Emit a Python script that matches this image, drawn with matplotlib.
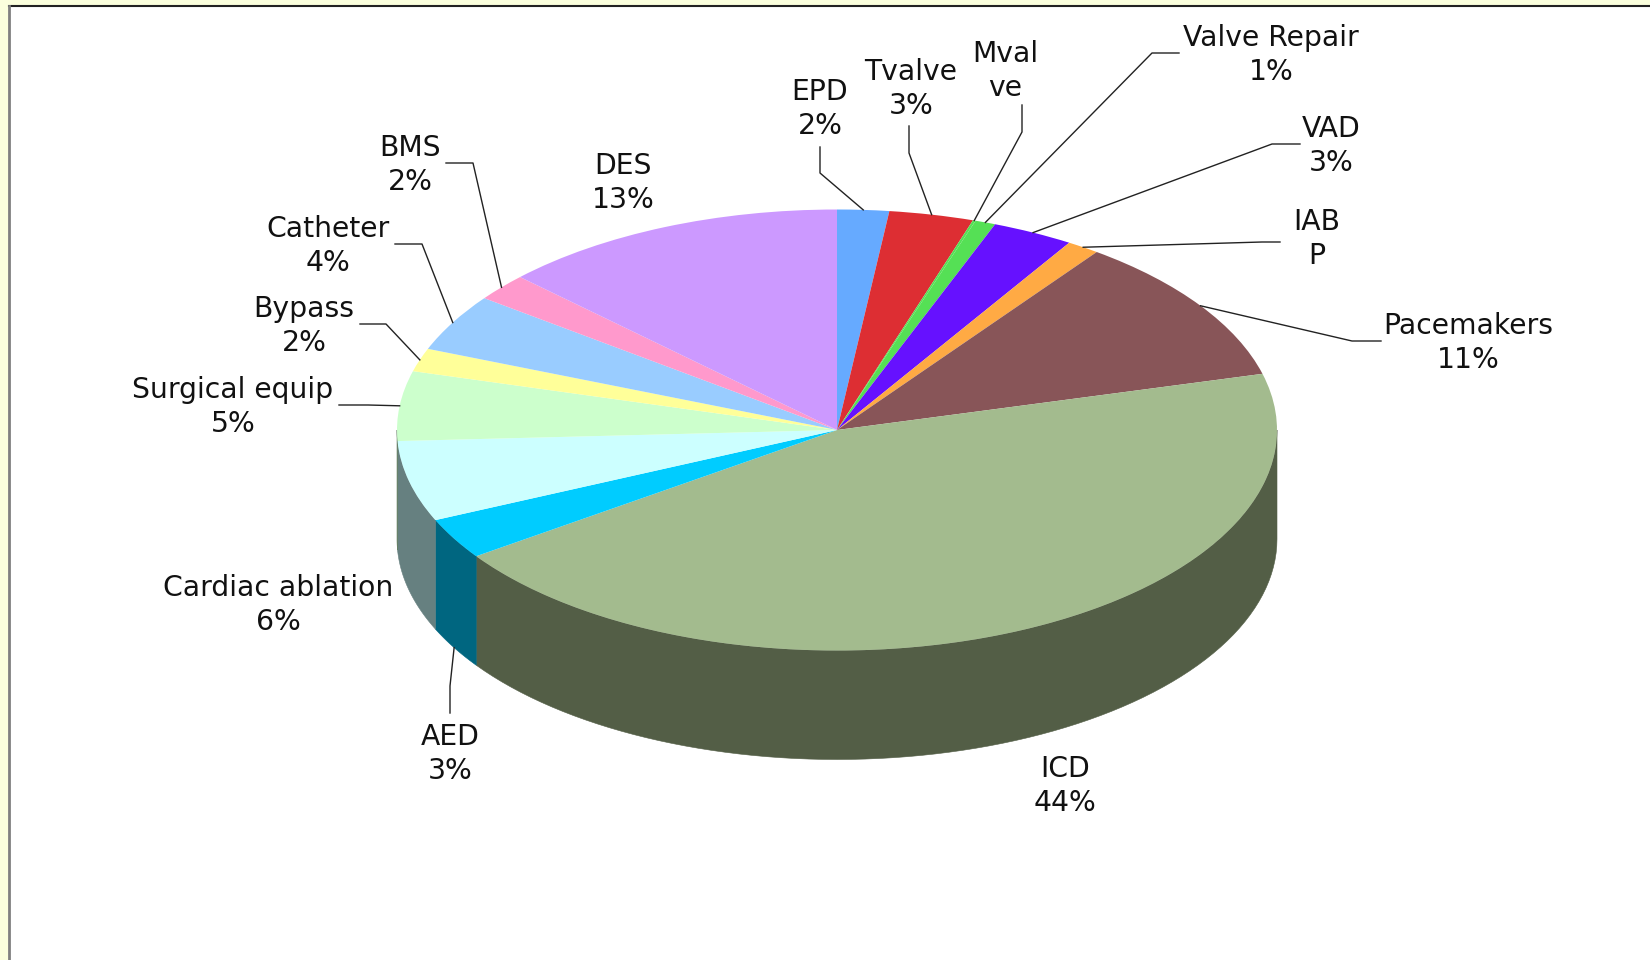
import numpy as np
import matplotlib
matplotlib.use('Agg')
import matplotlib.pyplot as plt
from matplotlib.patches import Rectangle

matplotlib.rcParams.update({'font.family': 'DejaVu Sans', 'font.size': 20.3})

# slices, clockwise from 12 o'clock
labels = ['EPD\n2%', 'Tvalve\n3%', 'Mval\nve', 'Valve Repair\n1%', 'VAD\n3%', 'IAB\nP',
          'Pacemakers\n11%', 'ICD\n44%', 'AED\n3%', 'Cardiac ablation\n6%',
          'Surgical equip\n5%', 'Bypass\n2%', 'Catheter\n4%', 'BMS\n2%', 'DES\n13%']
values = [1.9, 3.1, 0.1, 0.75, 3.0, 1.2, 10.85, 44.4, 3.0, 5.9, 5.1, 1.7, 4.2, 2.0, 12.8]
colors = ['#66AAFF', '#DD2E33', '#55E055', '#55E055', '#6611FF', '#FFAA44', '#885558',
          '#A3BB8E', '#00CCFF', '#CCFFFF', '#CCFFCC', '#FFFF99', '#99CCFF', '#FF99CC', '#CC99FF']
side_colors = ['#335580', '#6E171A', '#2A702A', '#2A702A', '#330880', '#805522', '#442A2C',
               '#535E46', '#006680', '#668080', '#668066', '#80804C', '#4C6680', '#804C66', '#664C80']

# layout in figure pixels
W, H = 1650, 960
cx, cy, rx, ry, depth = 837, 430, 440, 220.5, 109
label_pos = [(820, 109), (911, 89), (1005, 71), (1271, 55), (1331, 146), (1317, 239),
             (1468, 343), (1065, 786), (450, 754), (278, 605), (233, 407), (304, 326),
             (328, 246), (410, 165), (623, 183)]
# leader line points from the label to the bend, None where there is no line
leaders = [[(820, 147), (820, 173)], [(909, 126), (909, 153)], [(1022, 105), (1022, 132)],
           [(1179, 53), (1152, 53)], [(1300, 144), (1272, 144)], [(1280, 242), (1262, 242)],
           [(1381, 341), (1352, 341)], None, [(450, 713), (450, 686)], None,
           [(339, 405), (368, 405)], [(360, 324), (386, 324)], [(395, 244), (422, 244)],
           [(446, 163), (473, 163)], None]

fig = plt.figure(figsize=(W / 100, H / 100), dpi=100, facecolor='#FBFFDD')

# panel behind the chart
bg = fig.add_axes([0, 0, 1, 1])
bg.set_xlim(0, W)
bg.set_ylim(H, 0)
bg.axis('off')
bg.add_patch(Rectangle((9, 6), W, H, fc='white', ec='none'))
bg.plot([8.5, W], [5.5, 5.5], c='#222222', lw=1.5)
bg.plot([9, 9], [5.5, H], c='#808080', lw=2)

# pie axes: one data unit is rx wide and ry high, which squashes the circle
ax = fig.add_axes([0, 0, 1, 1])
ax.patch.set_alpha(0)
ax.pie(values, colors=colors, startangle=90, counterclock=False, radius=1,
       wedgeprops={'linewidth': 0, 'zorder': 3})
ax.set_aspect('auto')
ax.set_xlim(-cx / rx, (W - cx) / rx)
ax.set_ylim((cy - H) / ry, cy / ry)

# side wall of the disc, only the front half can be seen
edges = np.cumsum([0] + values) / sum(values) * 2 * np.pi
d = depth / ry
for i in range(len(values)):
    a = max(edges[i], np.pi / 2)
    b = min(edges[i + 1], 3 * np.pi / 2)
    if b <= a:
        continue
    t = np.linspace(a, b, 80)
    xs = np.sin(t)
    ys = np.cos(t)
    ax.fill(np.r_[xs, xs[::-1]], np.r_[ys, ys[::-1] - d], color=side_colors[i], lw=0.4, zorder=2)

# labels and leader lines on top
top = fig.add_axes([0, 0, 1, 1])
top.patch.set_alpha(0)
top.set_xlim(0, W)
top.set_ylim(H, 0)
top.axis('off')
mids = (edges[:-1] + edges[1:]) / 2
for i, name in enumerate(labels):
    top.text(label_pos[i][0], label_pos[i][1], name, ha='center', va='center',
             linespacing=1.27, color='#111111')
    if leaders[i] is not None:
        px = cx + rx * np.sin(mids[i])
        py = cy - ry * np.cos(mids[i])
        if name.startswith('AED'):
            py += depth
        pts = leaders[i] + [(px, py)]
        top.plot([p[0] for p in pts], [p[1] for p in pts], c='#222222', lw=1)

plt.savefig('out.png', dpi=100, facecolor=fig.get_facecolor())
